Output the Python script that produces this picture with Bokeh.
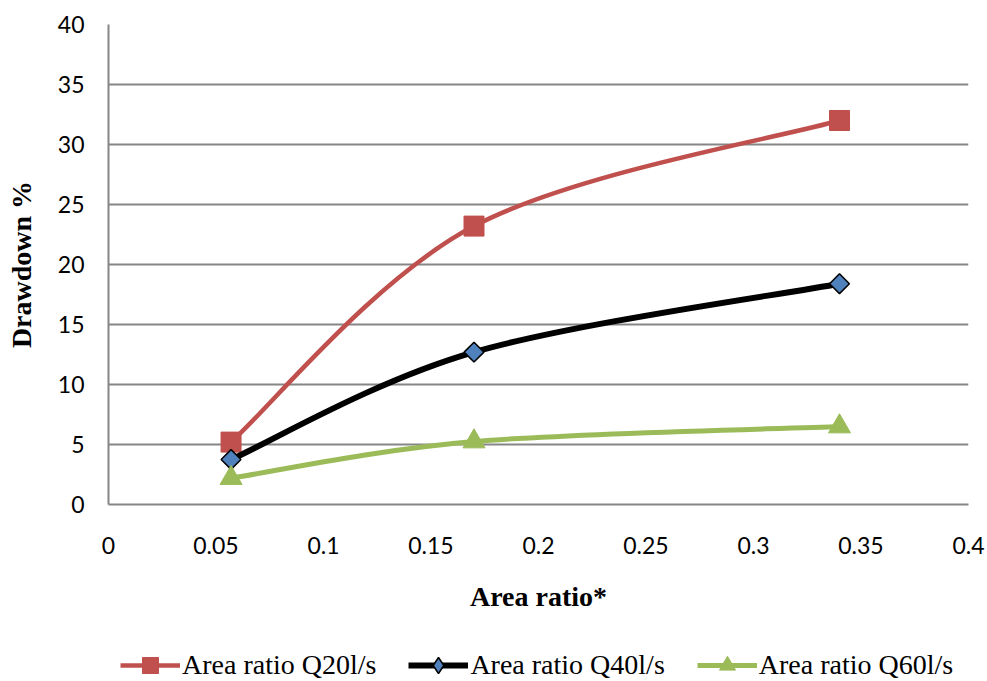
import math
from bokeh.plotting import figure
from bokeh.layouts import column
from bokeh.models import Range1d, FixedTicker, Legend, LegendItem, ColumnDataSource
from bokeh.embed import file_html
from bokeh.resources import INLINE

# ---- data ----
area_ratio = [0.057, 0.17, 0.34]
q20 = [5.2, 23.2, 32.0]
q40 = [3.75, 12.7, 18.4]
q60 = [2.2, 5.25, 6.5]

x_ticks = [0, 0.05, 0.1, 0.15, 0.2, 0.25, 0.3, 0.35, 0.4]
x_tick_labels = ["0", "0.05", "0.1", "0.15", "0.2", "0.25", "0.3", "0.35", "0.4"]
y_ticks = [0, 5, 10, 15, 20, 25, 30, 35, 40]

series_names = ["Area ratio Q20l/s", "Area ratio Q40l/s", "Area ratio Q60l/s"]

GRID = "#868686"
xr = Range1d(0, 0.4)
yr = Range1d(0, 40)

p = figure(width=987, height=637, output_backend="svg", toolbar_location=None,
           x_range=xr, y_range=yr,
           min_border_left=108, min_border_right=19, min_border_top=24,
           min_border_bottom=133)
p.outline_line_color = None
p.xgrid.grid_line_color = None
p.ygrid.grid_line_color = GRID
p.ygrid.grid_line_width = 2
p.ygrid.ticker = FixedTicker(ticks=y_ticks)

p.xaxis.ticker = FixedTicker(ticks=x_ticks)
p.xaxis.major_label_overrides = {t: l for t, l in zip(x_ticks, x_tick_labels)}
p.yaxis.ticker = FixedTicker(ticks=y_ticks)

for ax in (p.xaxis, p.yaxis):
    ax.axis_line_color = GRID
    ax.axis_line_width = 2
    ax.major_tick_line_color = None
    ax.minor_tick_line_color = None
    ax.major_tick_in = 0
    ax.major_tick_out = 0
    ax.major_label_text_font = "Lato"
    ax.major_label_text_font_size = "23px"
    ax.major_label_text_color = "#000000"
    ax.axis_label_text_font = "Liberation Serif"
    ax.axis_label_text_font_style = "bold"
    ax.axis_label_text_font_size = "28px"
    ax.axis_label_text_color = "#000000"

p.xaxis.axis_label = "Area ratio*"
p.yaxis.axis_label = "Drawdown %"
p.xaxis.major_label_standoff = 32
p.yaxis.major_label_standoff = 24
p.xaxis.axis_label_standoff = 24
p.yaxis.axis_label_standoff = 18


def smooth_segments(xs, ys):
    # Excel-style smoothed line: cubic Bezier segments (Catmull-Rom control points)
    n = len(xs)
    x0, y0, x1, y1, cx0, cy0, cx1, cy1 = [], [], [], [], [], [], [], []
    for i in range(n - 1):
        im1 = max(i - 1, 0)
        ip2 = min(i + 2, n - 1)
        x0.append(xs[i]); y0.append(ys[i])
        x1.append(xs[i + 1]); y1.append(ys[i + 1])
        cx0.append(xs[i] + (xs[i + 1] - xs[im1]) / 6.0)
        cy0.append(ys[i] + (ys[i + 1] - ys[im1]) / 6.0)
        cx1.append(xs[i + 1] - (xs[ip2] - xs[i]) / 6.0)
        cy1.append(ys[i + 1] - (ys[ip2] - ys[i]) / 6.0)
    return dict(x0=x0, y0=y0, x1=x1, y1=y1, cx0=cx0, cy0=cy0, cx1=cx1, cy1=cy1)


styles = [
    dict(ys=q20, color="#C0504D", lw=4.5, marker="square", size=20, angle=0,
         leg_marker="square", leg_size=20,
         fill="#C0504D", mline="#C0504D", mlw=1),
    dict(ys=q40, color="#000000", lw=6, marker="square", size=14, angle=math.pi / 4,
         leg_marker="diamond", leg_size=23,
         fill="#4F81BD", mline="#000000", mlw=1.5),
    dict(ys=q60, color="#9BBB59", lw=5, marker="triangle", size=22, angle=0,
         leg_marker="triangle", leg_size=22,
         fill="#9BBB59", mline="#9BBB59", mlw=1),
]

# legend strip below the chart (its frame is aligned with the chart's frame)
pl = figure(width=987, height=44, output_backend="svg", toolbar_location=None,
            x_range=xr, y_range=yr, x_axis_location=None, y_axis_location=None,
            min_border_left=0, min_border_right=0, min_border_top=0,
            min_border_bottom=0)
pl.outline_line_color = None
pl.xgrid.grid_line_color = None
pl.ygrid.grid_line_color = None

items = []
for name, st in zip(series_names, styles):
    seg = ColumnDataSource(smooth_segments(area_ratio, st["ys"]))
    p.bezier(x0="x0", y0="y0", x1="x1", y1="y1", cx0="cx0", cy0="cy0",
             cx1="cx1", cy1="cy1", source=seg, line_color=st["color"],
             line_width=st["lw"])
    p.scatter(area_ratio, st["ys"], marker=st["marker"], size=st["size"],
              angle=st["angle"], fill_color=st["fill"], line_color=st["mline"],
              line_width=st["mlw"])
    leg_line = pl.line(area_ratio, st["ys"], line_color=st["color"],
                       line_width=st["lw"], visible=False)
    leg_mark = pl.scatter(area_ratio, st["ys"], marker=st["leg_marker"],
                          size=st["leg_size"], fill_color=st["fill"],
                          line_color=st["mline"], line_width=st["mlw"],
                          visible=False)
    items.append(LegendItem(label=name, renderers=[leg_line, leg_mark]))

legend = Legend(items=items, orientation="horizontal", location=(12, -4),
                glyph_width=60, glyph_height=40, label_standoff=2, spacing=32,
                padding=0, margin=0, border_line_color=None,
                background_fill_alpha=0,
                label_text_font="Liberation Serif", label_text_font_size="28px",
                label_text_color="#000000", label_height=28)
pl.add_layout(legend, "center")

layout = column(p, pl, spacing=0)
open("out.html", "w").write(file_html(layout, INLINE))
